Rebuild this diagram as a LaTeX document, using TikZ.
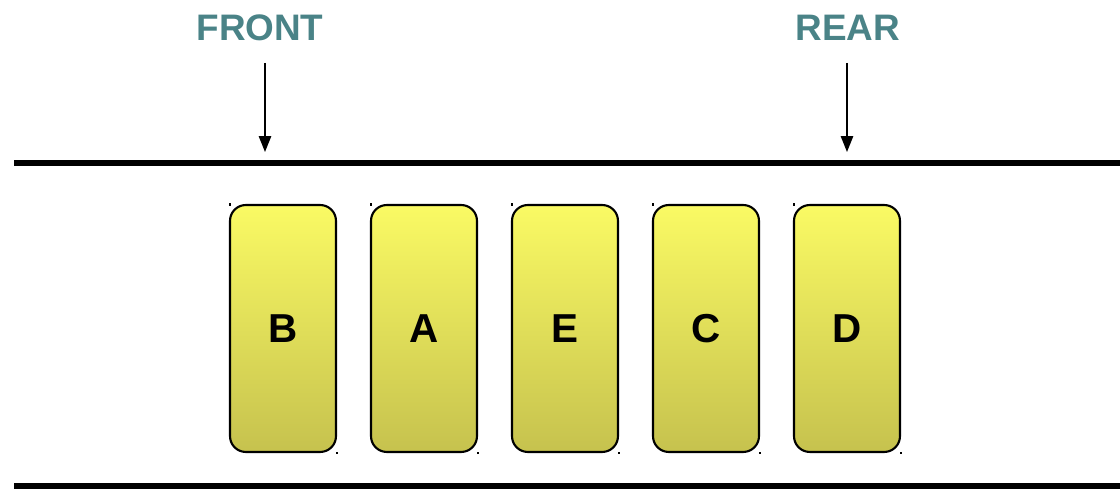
\documentclass[tikz,border=0pt]{standalone}
\usepackage{fontspec}
\setmainfont{Liberation Sans}
\usetikzlibrary{arrows.meta}
\definecolor{teal}{HTML}{4A8387}
\definecolor{ytop}{HTML}{FAFA64}
\definecolor{ybot}{HTML}{C6C24E}
\begin{document}
\begin{tikzpicture}[x=0.02cm,y=-0.02cm,
  slot/.style={draw=black,line width=1.2pt,rounded corners=9pt,top color=ytop,bottom color=ybot,
    minimum width=2.12cm,minimum height=4.94cm,inner sep=0pt,font=\fontsize{23}{23}\selectfont\bfseries},
  rail/.style={line width=3.4pt},
  lab/.style={text=teal,font=\fontsize{21}{21}\selectfont\bfseries},
  ptr/.style={line width=0.8pt,-{Triangle[length=9pt,width=7pt]}},
  dotm/.style={fill=black,inner sep=0pt,minimum size=1.2pt}]
\useasboundingbox (0,0) rectangle (1120,489);
\coordinate (tl) at (14,163);
\coordinate (tr) at (1120,163);
\coordinate (bl) at (14,486);
\coordinate (br) at (1120,486);
\draw[rail] (tl) -- (tr);
\draw[rail] (bl) -- (br);
\foreach \n/\t [count=\i from 0] in {b/B,a/A,e/E,c/C,d/D}{
  \node[slot] (\n) at ({283+141*\i},328.5) {\t};
  \node[dotm] at ({230+141*\i},204.5) {};
  \node[dotm] at ({337+141*\i},453) {};
}
\node[lab] (front) at (260,28) {FRONT};
\node[lab] (rear) at (848,28) {REAR};
\coordinate (fs) at (265,63);
\coordinate (fe) at (265,152);
\coordinate (rs) at (847,63);
\coordinate (re) at (847,152);
\draw[ptr] (fs) -- (fe);
\draw[ptr] (rs) -- (re);
\end{tikzpicture}
\end{document}
